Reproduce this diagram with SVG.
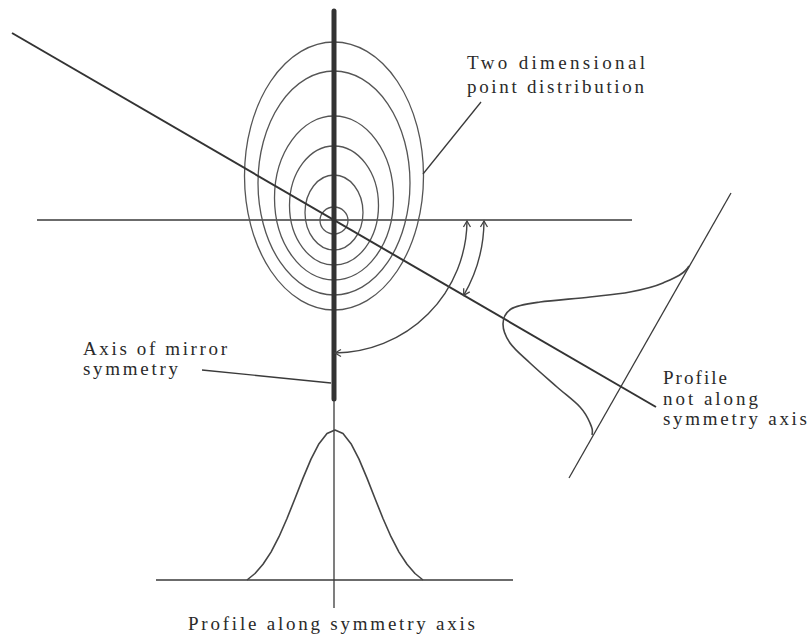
<svg xmlns="http://www.w3.org/2000/svg" width="811" height="644" viewBox="0 0 811 644">
<style>
  .ln { stroke:#3a3a3a; stroke-width:1.3; fill:none; }
  .ring { stroke:#555; stroke-width:1.3; fill:none; }
  .curve { stroke:#444; stroke-width:1.6; fill:none; stroke-linejoin:round; }
  .thick { stroke:#333; stroke-width:5; stroke-linecap:round; }
  .diag { stroke:#333; stroke-width:2; }
  .arc { stroke:#444; stroke-width:1.4; fill:none; marker-start:url(#chev); marker-end:url(#chev); }
  .lbl { font-family:"Liberation Serif","Times New Roman",serif; font-size:19px; fill:#2a2a2a; }
</style>
<defs>
  <marker id="chev" viewBox="-8 -5 10 10" refX="0" refY="0" markerWidth="10" markerHeight="10" markerUnits="userSpaceOnUse" orient="auto-start-reverse">
    <path d="M-6,-3.5 L0,0 L-6,3.5" fill="none" stroke="#444" stroke-width="1.3"/>
  </marker>
</defs>
<rect width="811" height="644" fill="#fff"/>

<g id="reference-lines">
  <line class="ln" x1="37" y1="220" x2="632" y2="220"/>
  <line class="ln" x1="334" y1="400" x2="334" y2="608"/>
</g>

<g id="point-distribution">
  <ellipse class="ring" cx="334" cy="176" rx="89.5" ry="134"/>
  <ellipse class="ring" cx="334" cy="183" rx="76" ry="112"/>
  <ellipse class="ring" cx="334" cy="198" rx="59.5" ry="82"/>
  <ellipse class="ring" cx="334" cy="205.5" rx="44.5" ry="59.5"/>
  <ellipse class="ring" cx="334" cy="212.5" rx="29" ry="37.5"/>
  <ellipse class="ring" cx="334" cy="220.5" rx="14" ry="13.5"/>
</g>

<g id="mirror-axis">
  <line class="thick" x1="334" y1="11" x2="334" y2="399"/>
</g>

<g id="oblique-axis">
  <line class="diag" x1="12" y1="33" x2="656" y2="407"/>
</g>

<g id="profile-along">
  <line class="ln" x1="156" y1="580" x2="513" y2="580"/>
  <polyline class="curve" points="247,580 255,573.5 263,564.3 271,552.1 279,536.7 287,518.5 295,498.5 303,478.1 311,459.1 319,443.7 327,433.6 335,430 343,433.6 351,443.7 359,459.1 367,478.1 375,498.5 383,518.5 391,536.7 399,552.1 407,564.3 415,573.5 423,580"/>
</g>

<g id="profile-not-along">
  <line class="ln" x1="569" y1="478" x2="731" y2="193"/>
  <path class="curve" d="M689,266 C684,274.7 672.8,278.7 663,283 C653.2,287.3 642.2,289.7 630,292 C617.8,294.3 605,295.3 590,297 C575,298.7 552.8,300.2 540,302 C527.2,303.8 517,305 511,309 C505,313 503,319 503,324 C503,330 505.5,336.5 510,343 C514.5,349.5 522.2,355.7 530,363 C537.8,370.3 548.7,379.7 557,387 C565.3,394.3 574.5,401 580,407 C585.5,413 588,418.3 590,423 C592,427.7 593,430 592,435"/>
</g>

<g id="connectors">
  <path class="arc" d="M467,221 A133,133 0 0 1 335,353"/>
  <path class="arc" d="M484,221 A150,150 0 0 1 463.7,295.3"/>
  <line class="ln" x1="481" y1="102" x2="423" y2="174"/>
  <line class="ln" x1="202" y1="370" x2="331" y2="383"/>
</g>

<g id="label-distribution">
  <text class="lbl" x="467" y="69" textLength="178" lengthAdjust="spacing">Two dimensional</text>
  <text class="lbl" x="467" y="93" textLength="177" lengthAdjust="spacing">point distribution</text>
</g>
<g id="label-mirror">
  <text class="lbl" x="83" y="355" textLength="144" lengthAdjust="spacing">Axis of mirror</text>
  <text class="lbl" x="83" y="375" textLength="95" lengthAdjust="spacing">symmetry</text>
</g>
<g id="label-not-along">
  <text class="lbl" x="663" y="384" textLength="64" lengthAdjust="spacing">Profile</text>
  <text class="lbl" x="663" y="405" textLength="95" lengthAdjust="spacing">not along</text>
  <text class="lbl" x="663" y="425" textLength="144" lengthAdjust="spacing">symmetry axis</text>
</g>
<g id="label-along">
  <text class="lbl" x="188" y="630" textLength="287" lengthAdjust="spacing">Profile along symmetry axis</text>
</g>
</svg>
